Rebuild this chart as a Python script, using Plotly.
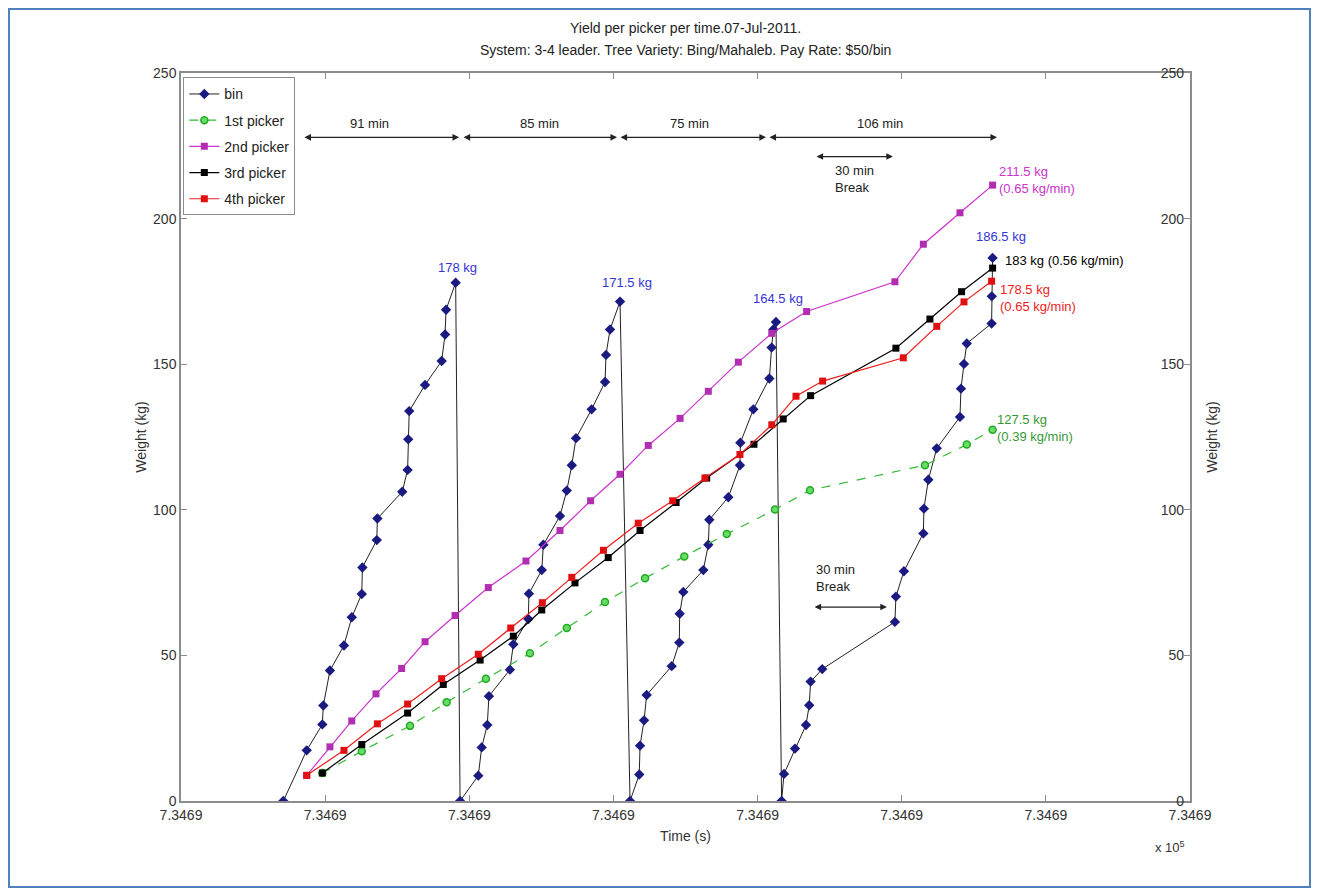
import plotly.graph_objects as go

# ---------------- data (time in minutes from left axis edge, weight in kg) ----------------
bin_time = [51.1, 62.8, 70.6, 71.1, 74.4, 81.4, 85.3, 90.3, 90.6, 97.8, 98.1, 110.5, 113.2, 113.5,
            114.0, 121.9, 130.2, 131.9, 132.4, 137.2,
            139.4, 148.5, 150.2, 153.0, 153.8, 164.3, 166.0, 173.5, 173.8, 180.2, 181.0, 189.3,
            192.7, 195.2, 197.3, 205.1, 211.8, 212.3, 214.3, 219.3,
            224.3, 228.9, 229.3, 231.3, 232.6, 245.1, 248.9, 249.1, 250.9, 260.9, 263.4, 263.9,
            273.4, 279.2, 279.4, 285.9, 293.9, 295.0, 295.9, 297.2,
            300.0, 301.2, 306.7, 312.2, 313.8, 314.5, 320.3, 356.6, 357.1, 361.1, 370.8, 371.1,
            373.3, 377.5, 389.1, 389.6, 391.1, 392.5, 404.9, 405.0, 405.4]
bin_weight = [0, 17.4, 26.3, 32.8, 44.8, 53.4, 63.1, 71.1, 80.2, 89.6, 97.0, 106.2, 113.7, 124.2,
              133.9, 142.9, 151.1, 160.2, 168.7, 178.0,
              0, 8.7, 18.4, 26.1, 36.0, 45.1, 53.8, 62.5, 71.2, 79.3, 88.0, 97.9,
              106.6, 115.3, 124.6, 134.5, 143.9, 153.2, 161.9, 171.5,
              0, 9.1, 19.0, 27.7, 36.4, 46.3, 54.4, 64.3, 71.8, 79.3, 88.0, 96.6,
              104.3, 115.3, 123.0, 134.5, 145.1, 155.7, 161.9, 164.5,
              0, 9.3, 18.0, 26.1, 32.9, 41.0, 45.3, 61.5, 70.2, 78.9, 91.9, 100.4,
              110.3, 121.1, 131.9, 141.6, 150.1, 157.1, 164.0, 173.3, 186.5]

p1_time = [70.6, 90.3, 114.4, 132.7, 152.3, 174.3, 192.7, 211.8, 231.8, 251.4, 272.6, 296.7,
           314.2, 371.6, 392.5, 405.4]
p1_weight = [9.6, 17.1, 25.8, 33.9, 42.0, 50.7, 59.4, 68.3, 76.5, 84.0, 91.7, 100.1,
             106.7, 115.3, 122.4, 127.5]

p2_time = [62.8, 74.4, 85.3, 97.4, 110.2, 121.9, 136.9, 153.5, 172.3, 189.3, 204.6, 219.3,
           233.4, 249.3, 263.4, 278.4, 295.1, 312.5, 356.6, 370.8, 389.1, 405.4]
p2_weight = [8.8, 18.6, 27.5, 36.8, 45.5, 54.7, 63.7, 73.3, 82.4, 92.9, 103.1, 112.2,
             122.1, 131.4, 140.7, 150.7, 160.6, 168.1, 178.3, 191.2, 202.0, 211.5]

p3_time = [70.6, 90.3, 113.2, 131.0, 149.4, 166.0, 180.2, 196.8, 213.4, 229.3, 247.3, 262.6,
           286.2, 300.8, 314.5, 357.1, 374.1, 389.9, 405.4]
p3_weight = [9.6, 19.4, 30.2, 40.0, 48.4, 56.6, 65.6, 74.9, 83.6, 92.9, 102.5, 110.9,
             122.5, 131.2, 139.2, 155.5, 165.5, 174.9, 183.0]

p4_time = [62.8, 81.4, 98.1, 113.2, 130.2, 148.5, 164.7, 180.5, 195.2, 211.0, 228.4, 245.6,
           261.7, 279.2, 295.1, 307.2, 320.5, 360.8, 377.5, 391.1, 404.9]
p4_weight = [8.8, 17.4, 26.5, 33.3, 42.0, 50.4, 59.4, 68.1, 76.8, 86.1, 95.4, 103.1,
             110.9, 119.0, 129.2, 139.0, 144.2, 152.2, 163.0, 171.4, 178.5]

series_names = ["bin", "1st picker", "2nd picker", "3rd picker", "4th picker"]

xtick_vals = [0, 72, 144, 216, 288, 360, 432, 504]
xtick_text = ["7.3469"] * len(xtick_vals)
ytick_vals = [0, 50, 100, 150, 200, 250]

# interval arrows (start, end, label, label position)
interval_starts = [60.9, 140.4, 218.8, 293.2]
interval_ends = [138.9, 217.8, 292.2, 407.6]
interval_labels = ["91 min", "85 min", "75 min", "106 min"]
interval_label_x = [94.4, 179.0, 253.9, 349.2]
interval_y = 227.9
interval_label_y = 232.5

rate_labels = {"1st picker": "127.5 kg<br>(0.39 kg/min)",
               "2nd picker": "211.5 kg<br>(0.65 kg/min)",
               "3rd picker": "183 kg (0.56 kg/min)",
               "4th picker": "178.5 kg<br>(0.65 kg/min)"}

FONT = "Liberation Sans, Arial, sans-serif"
BLUE_TXT = "#3535d5"
MAG = "#cc33cc"
RED = "#ee1c1c"
GREEN = "#33b833"

fig = go.Figure()

fig.add_trace(go.Scatter(
    x=bin_time, y=bin_weight, mode="lines+markers", name=series_names[0],
    legendgroup="g0",
    line=dict(color="#222222", width=1),
    marker=dict(symbol="diamond", size=8, color="#1a1a80", line=dict(width=0))))
fig.add_trace(go.Scatter(
    x=p1_time, y=p1_weight, mode="lines+markers", name=series_names[1],
    legendgroup="g1",
    line=dict(color=GREEN, width=1.2, dash="dash"),
    marker=dict(symbol="circle", size=7, color="#66dd66", line=dict(color="#22aa22", width=1.5))))
fig.add_trace(go.Scatter(
    x=p2_time, y=p2_weight, mode="lines+markers", name=series_names[2],
    legendgroup="g2",
    line=dict(color=MAG, width=1.2),
    marker=dict(symbol="square", size=7, color="#b32db3", line=dict(width=0))))
fig.add_trace(go.Scatter(
    x=p3_time, y=p3_weight, mode="lines+markers", name=series_names[3],
    legendgroup="g3",
    line=dict(color="#000000", width=1.2),
    marker=dict(symbol="square", size=7, color="#000000", line=dict(width=0))))
fig.add_trace(go.Scatter(
    x=p4_time, y=p4_weight, mode="lines+markers", name=series_names[4],
    legendgroup="g4",
    line=dict(color=RED, width=1.2),
    marker=dict(symbol="square", size=7, color="#e01010", line=dict(width=0))))
# invisible trace so the right-hand axis is drawn
fig.add_trace(go.Scatter(x=[None], y=[None], yaxis="y2", showlegend=False, hoverinfo="skip"))

annotations = []

# bin peak labels (points just before a reset to 0, plus the final point)
peak_shift = [(2, 15), (7, 19), (2, 23), (8, 21)]
peaks = [i for i in range(len(bin_weight) - 1) if bin_weight[i + 1] == 0] + [len(bin_weight) - 1]
for k, i in enumerate(peaks):
    w = bin_weight[i]
    txt = ("%g kg" % w)
    annotations.append(dict(x=bin_time[i], y=w, xref="x", yref="y", text=txt, showarrow=False,
                            xanchor="center", yanchor="middle",
                            xshift=peak_shift[k][0], yshift=peak_shift[k][1],
                            font=dict(family=FONT, size=13, color=BLUE_TXT)))

# end-of-day rate labels for pickers
ends = {"1st picker": (p1_time[-1], p1_weight[-1], "#349a34", 2, 1.5),
        "2nd picker": (p2_time[-1], p2_weight[-1], MAG, 4, 5.5),
        "3rd picker": (p3_time[-1], p3_weight[-1], "#000000", 10, 8),
        "4th picker": (p4_time[-1], p4_weight[-1], RED, 6, -17)}
for nm, (tx, wy, col, xs, ys) in ends.items():
    annotations.append(dict(x=tx, y=wy, xref="x", yref="y", text=rate_labels[nm], showarrow=False,
                            xanchor="left", yanchor="middle", align="left",
                            xshift=xs, yshift=ys,
                            font=dict(family=FONT, size=13, color=col)))

# interval arrows
for s, e, lab, lx in zip(interval_starts, interval_ends, interval_labels, interval_label_x):
    annotations.append(dict(x=e, y=interval_y, ax=s, ay=interval_y, xref="x", yref="y",
                            axref="x", ayref="y", text="", showarrow=True,
                            arrowhead=2, arrowside="end+start", arrowsize=1.1,
                            arrowwidth=1.2, arrowcolor="#222222"))
    annotations.append(dict(x=lx, y=interval_label_y, xref="x", yref="y", text=lab,
                            showarrow=False, font=dict(family=FONT, size=13, color="#222222")))

# break arrows
break_arrows = [(316.7, 355.6, 221.3, 325.7, 213.6), (315.7, 352.6, 66.6, 316.2, 76.6)]
for s, e, yv, tx, ty in break_arrows:
    annotations.append(dict(x=e, y=yv, ax=s, ay=yv, xref="x", yref="y",
                            axref="x", ayref="y", text="", showarrow=True,
                            arrowhead=2, arrowside="end+start", arrowsize=1.1,
                            arrowwidth=1.2, arrowcolor="#222222"))
    annotations.append(dict(x=tx, y=ty, xref="x", yref="y", text="30 min<br>Break",
                            showarrow=False, xanchor="left", align="left",
                            font=dict(family=FONT, size=13, color="#222222")))

# title lines
annotations.append(dict(x=0.5, y=1.0618, xref="paper", yref="paper",
                        text="Yield per picker per time.07-Jul-2011.", showarrow=False,
                        xanchor="center", yanchor="middle",
                        font=dict(family=FONT, size=14, color="#222222")))
annotations.append(dict(x=0.5, y=1.0316, xref="paper", yref="paper",
                        text="System: 3-4 leader. Tree Variety: Bing/Mahaleb. Pay Rate: $50/bin",
                        showarrow=False, xanchor="center", yanchor="middle",
                        font=dict(family=FONT, size=14, color="#222222")))
# exponent note
annotations.append(dict(x=0.980, y=-0.0632, xref="paper", yref="paper",
                        text="x 10<sup>5</sup>", showarrow=False,
                        xanchor="center", yanchor="middle",
                        font=dict(family=FONT, size=13, color="#333333")))

shapes = [
    dict(type="rect", xref="paper", yref="paper", x0=-0.1705, x1=1.1189, y0=-0.1181, y1=1.0879,
         line=dict(color="#4f81bd", width=2), fillcolor="rgba(0,0,0,0)"),
]

axis_common = dict(showgrid=False, zeroline=False, showline=True, linecolor="#8c8c8c",
                   linewidth=1.5, ticks="inside", ticklen=6, tickcolor="#8c8c8c",
                   tickfont=dict(family=FONT, size=14, color="#333333"))

fig.update_layout(
    width=1303, height=880,
    margin=dict(l=173, r=121, t=65, b=87),
    paper_bgcolor="white", plot_bgcolor="white",
    font=dict(family=FONT, size=14, color="#333333"),
    showlegend=True,
    legend=dict(x=0.0023, y=0.994, xanchor="left", yanchor="top",
                bordercolor="#8c8c8c", borderwidth=1, bgcolor="white",
                font=dict(family=FONT, size=14, color="#222222"),
                tracegroupgap=5, itemwidth=30),
    xaxis=dict(range=[0, 504], tickvals=xtick_vals, ticktext=xtick_text, mirror="ticks",
               title=dict(text="Time (s)", standoff=10,
                          font=dict(family=FONT, size=14, color="#333333")),
               **axis_common),
    yaxis=dict(range=[0, 250], tickvals=ytick_vals, mirror=True,
               title=dict(text="Weight (kg)", standoff=3,
                          font=dict(family=FONT, size=14, color="#333333")),
               **axis_common),
    yaxis2=dict(range=[0, 250], tickvals=ytick_vals, overlaying="y", side="right",
                ticklabelposition="inside", ticklabeloverflow="allow",
                title=dict(text="Weight (kg)", standoff=24,
                           font=dict(family=FONT, size=14, color="#333333")),
                **axis_common),
    annotations=annotations,
    shapes=shapes,
)

fig.write_html("out.html")
